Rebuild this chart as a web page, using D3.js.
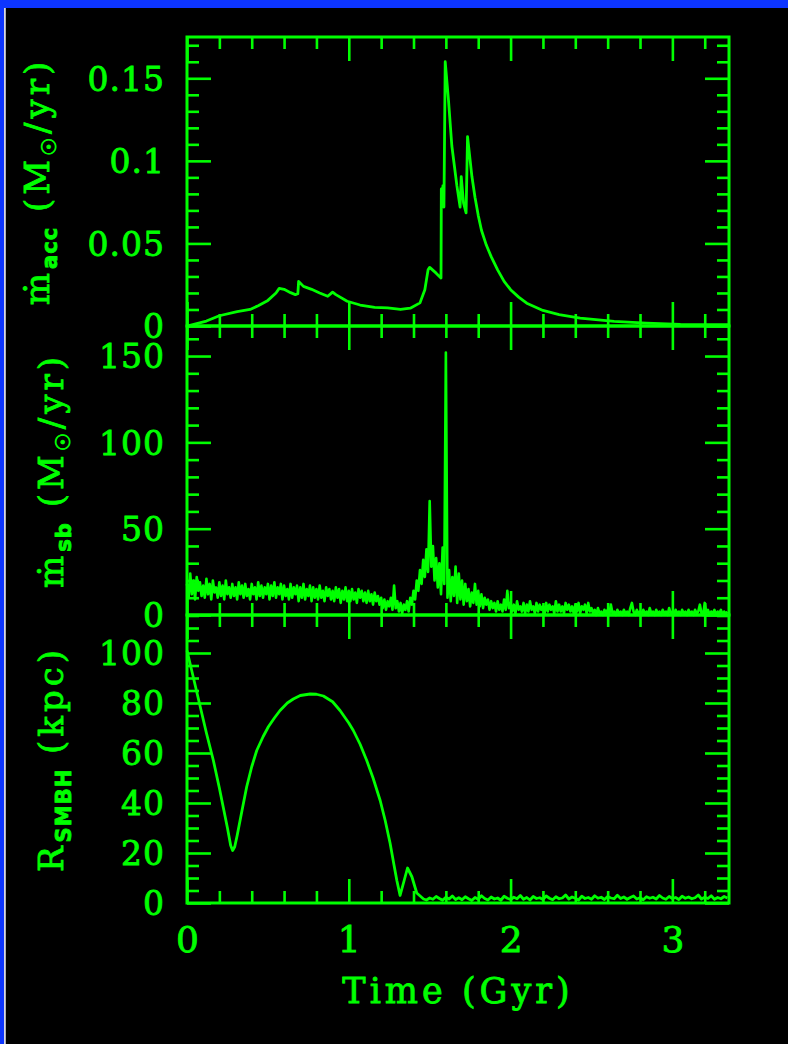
<!DOCTYPE html>
<html><head><meta charset="utf-8">
<script src="https://cdn.jsdelivr.net/npm/d3@7"></script>
<style>html,body{margin:0;padding:0;background:#000;overflow:hidden}svg{display:block}</style>
</head><body>
<svg id="chart" width="788" height="1044"></svg>
<script>
// ---------------- DATA ----------------
const accTime = [0,0.06,0.12,0.2,0.31,0.39,0.44,0.5,0.55,0.57,0.6,0.64,0.67,0.685,0.69,0.72,0.77,0.82,0.87,0.9,0.92,0.99,1.07,1.16,1.24,1.32,1.38,1.44,1.47,1.49,1.5,1.54,1.57,1.572,1.578,1.582,1.588,1.596,1.616,1.637,1.668,1.688,1.695,1.709,1.725,1.734,1.761,1.78,1.80,1.82,1.85,1.88,1.92,1.96,2.0,2.05,2.1,2.2,2.3,2.43,2.64,2.84,3.05,3.35];
const accRate = [0,0.0015,0.003,0.0062,0.0087,0.0100,0.0123,0.0155,0.0200,0.0228,0.0222,0.0202,0.0190,0.0195,0.0270,0.0240,0.0222,0.0200,0.0180,0.0205,0.0190,0.0150,0.0127,0.0113,0.0110,0.0100,0.0108,0.0140,0.0220,0.0340,0.0355,0.0320,0.0290,0.0830,0.0760,0.0850,0.0720,0.1600,0.1370,0.1090,0.0850,0.0720,0.0905,0.0745,0.0685,0.1147,0.0905,0.0780,0.0670,0.0580,0.0490,0.0420,0.0340,0.0270,0.0220,0.0175,0.0138,0.0094,0.0069,0.0048,0.0028,0.0017,0.0010,0.0008];

const sbStart = 0, sbStep = 0.01;
const sbRate = [
 18,10,24,12,20,9,22,14,19,11,
 17,10,21,12,18,9,20,13,16,10,
 19,11,17,9,20,12,16,10,18,11,
 16,9,19,12,17,10,18,11,15,9,
 18,12,16,9,19,11,17,10,16,12,
 18,9,17,11,19,10,16,12,18,9,
 17,11,15,9,18,10,16,12,17,8,
 16,10,18,9,15,11,17,8,16,10,
 15,9,17,10,14,8,16,11,15,9,
 14,8,16,10,15,7,14,9,16,8,
 14,8,15,9,13,7,15,10,14,8,
 13,7,14,8,12,6,13,8,11,6,
 10,4,9,3,8,5,10,3,17,4,
 8,2,7,1,6,3,8,2,10,6,
 14,9,20,14,26,18,32,22,38,25,
 66,28,40,20,33,16,30,12,39,18,
 152,10,26,8,22,11,28,7,24,9,
 20,6,18,8,15,5,13,7,18,6,
 14,5,12,4,10,6,9,3,8,4,
 7,2,8,3,6,2,9,3,14,4,
 7,2,6,1,8,3,5,2,7,1,
 6,2,8,3,5,1,7,2,6,3,
 5,1,7,2,6,3,5,1,8,2,
 6,2,5,1,7,3,6,2,5,1,
 6,2,7,1,5,3,6,1,7,2,
 4,1,3,0,4,1,2,0,3,1,
 3,0,6,1,2,0,3,1,2,0,
 3,1,2,0,4,7,2,0,3,1,
 2,0,3,1,2,0,4,1,2,0,
 3,1,2,0,3,1,2,0,4,1,
 2,0,3,1,2,0,3,1,2,0,
 3,1,2,0,3,1,2,6,1,0,
 7,1,3,0,2,1,3,0,2,1,
 3,0,2,1,2
];

const rTime = [0,0.04,0.08,0.12,0.163,0.2,0.225,0.25,0.27,0.282,0.295,0.31,0.34,0.369,0.4,0.431,0.47,0.503,0.54,0.575,0.62,0.657,0.7,0.761,0.8,0.843,0.9,0.946,1.0,1.028,1.07,1.111,1.15,1.194,1.225,1.255,1.28,1.297,1.317,1.338,1.363,1.39,1.42,1.462];
const rDist = [101,90,79,68,57,46,38,30,23,21,22.5,27,37,46.5,54.5,61,66.5,70.5,74,77,80,81.6,83,83.6,83.5,82.8,80.5,77,72,69,63.5,57,50,41,33,24,15,9,3,8,14,10.5,4,1.6];
const rTailStart = 1.48, rTailStep = 0.02;
const rTail = [
 1.2,2.0,1.5,2.6,1.8,1.1,2.3,1.6,2.8,1.4,
 2.1,1.3,2.5,1.7,1.0,2.2,1.5,2.9,1.8,1.2,
 2.4,1.6,2.0,1.1,2.7,1.9,1.4,2.3,1.7,3.0,
 1.5,2.2,1.2,2.6,1.8,2.1,1.4,2.8,1.9,1.3,
 2.5,1.7,2.0,3.2,1.6,2.4,1.9,1.2,2.7,1.8,
 2.2,1.5,2.9,1.9,2.3,1.4,2.6,2.0,1.7,3.1,
 1.8,2.4,1.5,2.2,2.8,1.6,2.1,1.3,2.5,1.9,
 2.3,1.6,3.0,2.0,1.5,2.6,1.8,2.2,1.4,2.7,
 1.9,2.4,1.7,2.1,3.2,1.6,2.3,1.8,2.9,1.5,
 2.2,1.7,2.6,2.0
];

const xTickValues = [0,1,2,3];
const xTickLabels = ["0","1","2","3"];
const accTickValues = [0,0.05,0.1,0.15];
const accTickLabels = ["0","0.05","0.1","0.15"];
const sbTickValues = [0,50,100,150];
const sbTickLabels = ["0","50","100","150"];
const rTickValues = [0,20,40,60,80,100];
const rTickLabels = ["0","20","40","60","80","100"];

// ---------------- DRAW ----------------
const GREEN = "#00ff00";
const svg = d3.select("#chart");
svg.append("rect").attr("width",788).attr("height",1044).attr("fill","#000");
svg.append("rect").attr("x",0).attr("y",0).attr("width",788).attr("height",8).attr("fill","#0d35ff");
svg.append("rect").attr("x",0).attr("y",0).attr("width",4).attr("height",1044).attr("fill","#0d35ff");
svg.append("rect").attr("x",4).attr("y",8).attr("width",1.8).attr("height",1036).attr("fill","#d8d8e0");

const L = 187, R = 729;
const x = d3.scaleLinear().domain([0,3.35]).range([L,R]);
const FONT = "'DejaVu Serif', serif";
const TEXT_STROKE = 0.8;

const sbPoints = sbRate.map((v,i)=>[sbStart + i*sbStep, v]);
const rPoints = rTime.map((t,i)=>[t, rDist[i]]).concat(rTail.map((v,i)=>[rTailStart + i*rTailStep, v]));
const accPoints = accTime.map((t,i)=>[t, accRate[i]]);

const panels = [
  {top:37, bottom:326, max:0.175, minorStep:0.01, ticks:accTickValues, labels:accTickLabels, pts:accPoints, lw:2.8, titleX:49},
  {top:326, bottom:615, max:167.4, minorStep:10, ticks:sbTickValues, labels:sbTickLabels, pts:sbPoints, lw:2.6, titleX:63},
  {top:615, bottom:903, max:115.2, minorStep:5, ticks:rTickValues, labels:rTickLabels, pts:rPoints, lw:2.8, titleX:63}
];

const xMinor = d3.range(0, 3.35, 0.2).filter(v => Math.abs(v - Math.round(v)) > 1e-6);

function styleAxis(g){
  g.select(".domain").remove();
  g.selectAll(".tick line").attr("stroke",GREEN).attr("stroke-width",2.6);
  g.selectAll(".tick text").attr("fill",GREEN).attr("font-family",FONT)
    .attr("stroke",GREEN).attr("stroke-width",TEXT_STROKE);
}

panels.forEach((p,pi)=>{
  const y = d3.scaleLinear().domain([0,p.max]).range([p.bottom,p.top]);
  p.y = y;
  const yMinor = d3.range(0, p.max, p.minorStep).filter(v => !p.ticks.some(t => Math.abs(t - v) < p.minorStep*1e-3) && v > 0);
  const g = svg.append("g");
  [[xMinor,12],[xTickValues,24]].forEach(([vals,len])=>{
    g.append("g").attr("transform",`translate(0,${p.bottom})`)
      .call(d3.axisBottom(x).tickValues(vals).tickSize(-len).tickFormat("")).call(styleAxis);
    g.append("g").attr("transform",`translate(0,${p.top})`)
      .call(d3.axisTop(x).tickValues(vals).tickSize(-len).tickFormat("")).call(styleAxis);
  });
  [[yMinor,12],[p.ticks,24]].forEach(([vals,len])=>{
    g.append("g").attr("transform",`translate(${L},0)`)
      .call(d3.axisLeft(y).tickValues(vals).tickSize(-len).tickFormat("")).call(styleAxis);
    g.append("g").attr("transform",`translate(${R},0)`)
      .call(d3.axisRight(y).tickValues(vals).tickSize(-len).tickFormat("")).call(styleAxis);
  });
  g.append("g").attr("transform",`translate(${L},0)`)
    .call(d3.axisLeft(y).tickValues(p.ticks).tickSize(0).tickPadding(L-165)
      .tickFormat((d,i)=>p.labels[i]))
    .call(styleAxis)
    .selectAll("text").attr("font-size",33).attr("letter-spacing",1).attr("dy","0.36em");
  g.append("rect").attr("x",L).attr("y",p.top).attr("width",R-L).attr("height",p.bottom-p.top)
    .attr("fill","none").attr("stroke",GREEN).attr("stroke-width",3);
  const line = d3.line().x(d=>x(d[0])).y(d=>y(Math.min(d[1],p.max)));
  svg.append("path").datum(p.pts).attr("d",line).attr("fill","none")
    .attr("stroke",GREEN).attr("stroke-width",p.lw).attr("stroke-linejoin","round");
});

svg.append("g").attr("transform",`translate(0,903)`)
  .call(d3.axisBottom(x).tickValues(xTickValues).tickSize(0).tickPadding(23).tickFormat((d,i)=>xTickLabels[i]))
  .call(styleAxis)
  .selectAll("text").attr("font-size",36);

svg.append("text").attr("x",458).attr("y",1003).attr("text-anchor","middle")
  .attr("fill",GREEN).attr("stroke",GREEN).attr("stroke-width",TEXT_STROKE)
  .attr("font-family",FONT).attr("font-size",35).attr("letter-spacing",4)
  .text("Time (Gyr)");

function yTitle(p, parts){
  const cy = (p.top + p.bottom)/2;
  const t = svg.append("text").attr("transform",`translate(${p.titleX},${cy}) rotate(-90)`)
    .attr("text-anchor","middle").attr("fill",GREEN).attr("stroke",GREEN).attr("stroke-width",TEXT_STROKE)
    .attr("font-family",FONT).attr("font-size",34).attr("letter-spacing",4);
  parts.forEach(s=>{
    const ts = t.append("tspan").text(s.t);
    if (s.fs) ts.attr("font-size",s.fs);
    if (s.dy) ts.attr("dy",s.dy);
    if (s.ff) ts.attr("font-family",s.ff);
    if (s.fw) ts.attr("font-weight",s.fw);
    if (s.ls !== undefined) ts.attr("letter-spacing",s.ls);
  });
}
yTitle(panels[0],[{t:"ṁ"},{t:"acc",fs:21,dy:8,ff:"'DejaVu Sans',sans-serif",fw:"bold",ls:1},{t:"  (M",dy:-8},{t:"☉",fs:20,dy:7,ff:"'DejaVu Sans',sans-serif"},{t:"/yr)",dy:-7}]);
yTitle(panels[1],[{t:"ṁ"},{t:"sb",fs:21,dy:8,ff:"'DejaVu Sans',sans-serif",fw:"bold",ls:1},{t:"  (M",dy:-8},{t:"☉",fs:20,dy:7,ff:"'DejaVu Sans',sans-serif"},{t:"/yr)",dy:-7}]);
yTitle(panels[2],[{t:"R"},{t:"SMBH",fs:21,dy:8,ff:"'DejaVu Sans',sans-serif",fw:"bold",ls:1},{t:"  (kpc)",dy:-8}]);
</script>
</body></html>
